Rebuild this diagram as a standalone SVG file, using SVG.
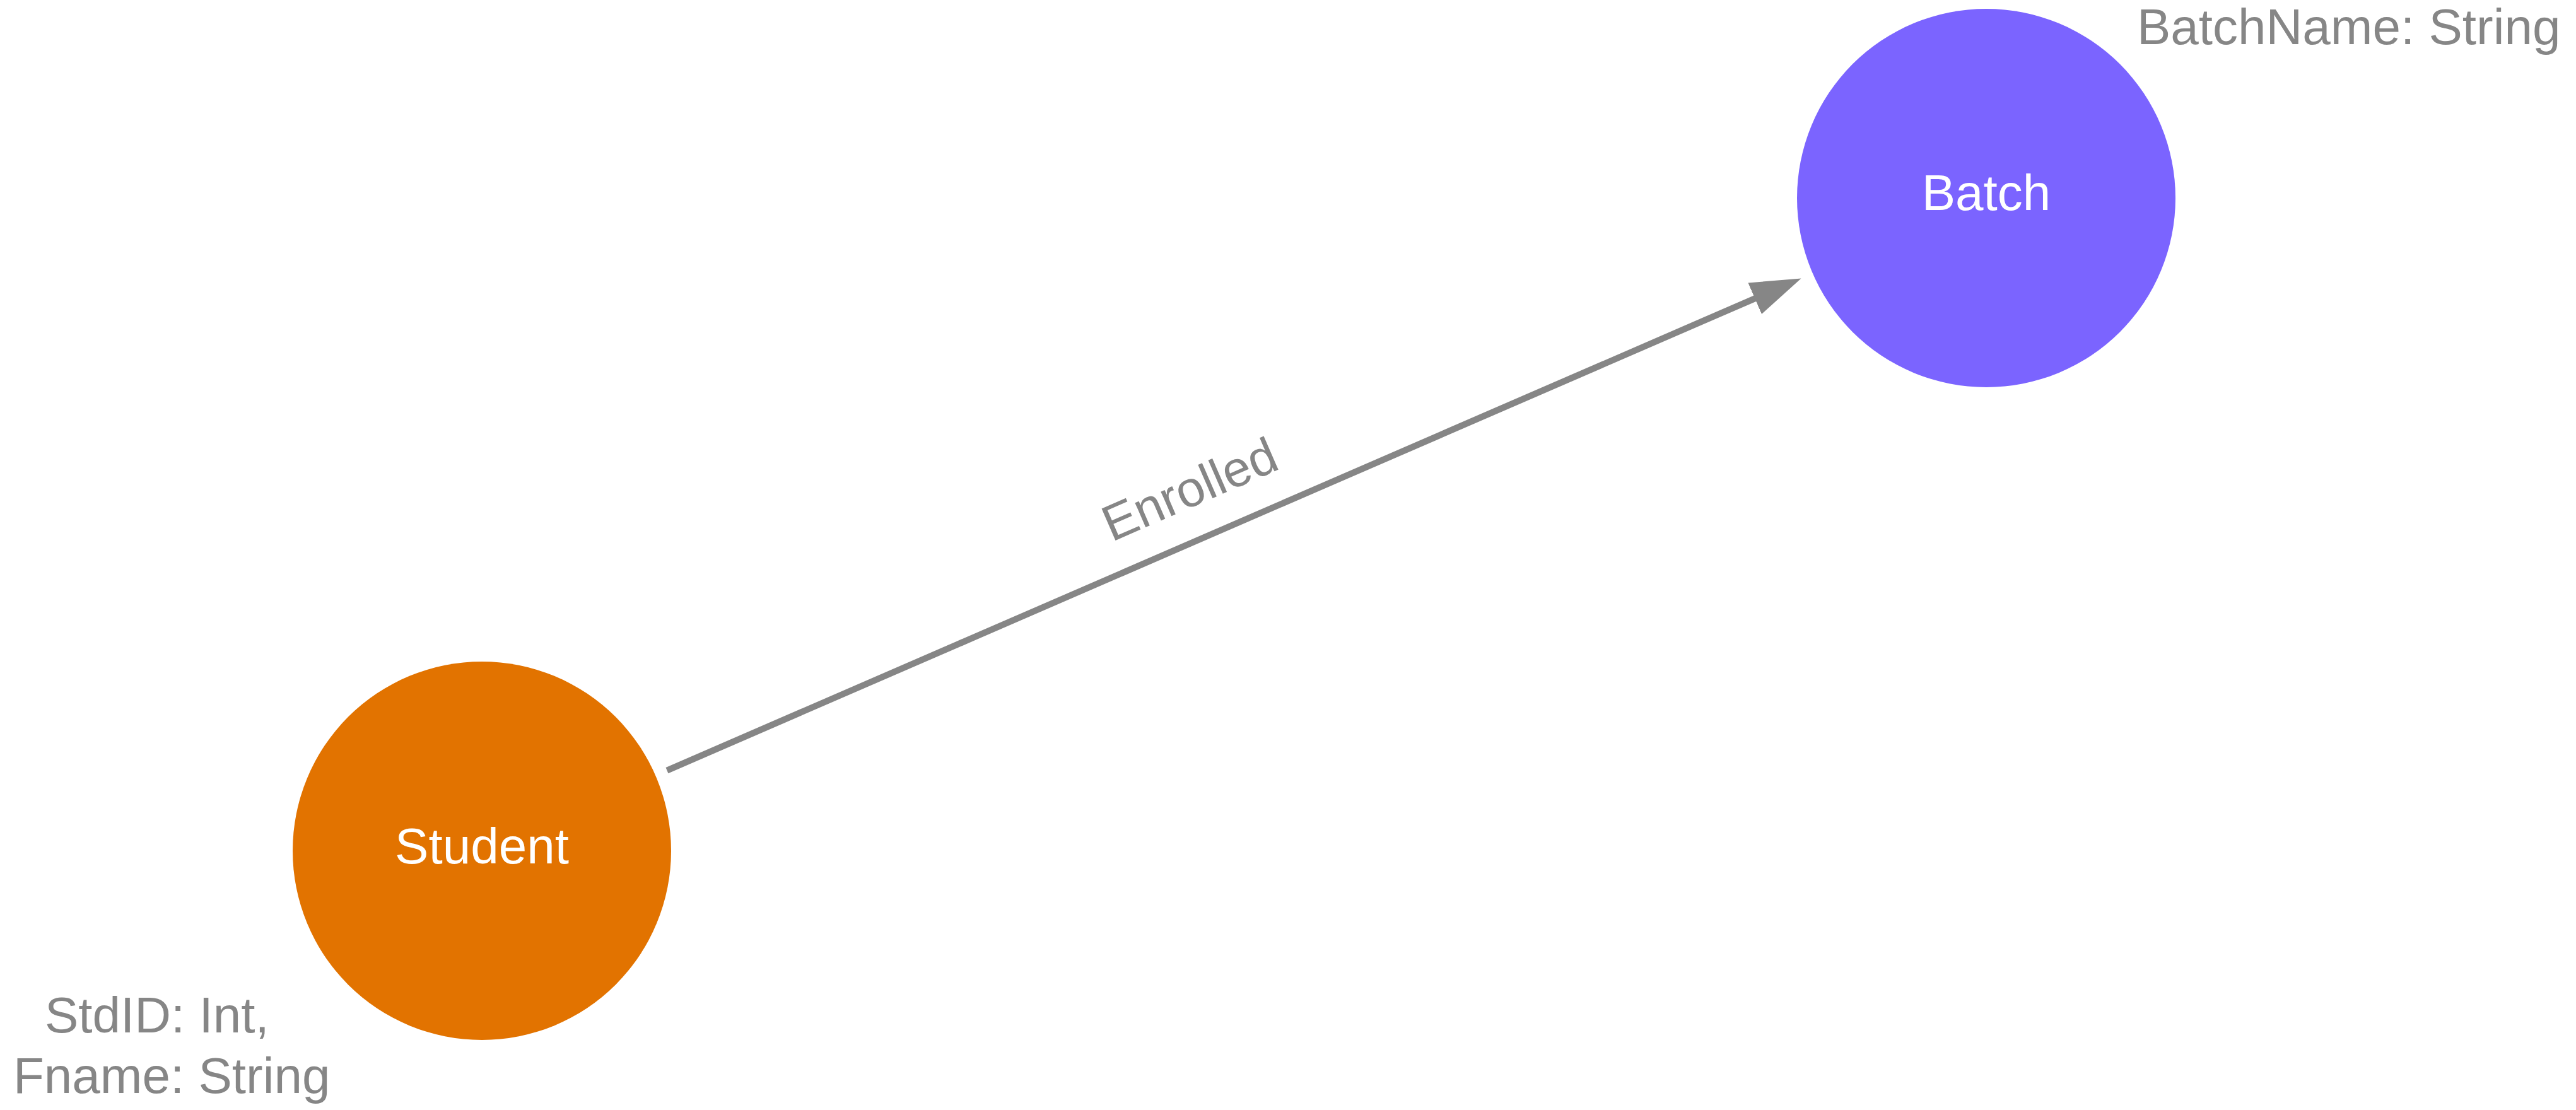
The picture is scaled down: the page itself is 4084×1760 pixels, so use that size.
<svg xmlns="http://www.w3.org/2000/svg" width="4084" height="1760" viewBox="0 0 4084 1760">
<style>
text{font-family:"Liberation Sans",Arial,sans-serif;font-size:80px}
.lbl{fill:#ffffff;text-anchor:middle}
.prop{fill:#868686}
.edge{stroke:#868686;stroke-width:10;fill:none}
</style>
<defs>
<marker id="arrow" viewBox="0 0 80 54" markerWidth="80" markerHeight="54" refX="10" refY="27" orient="auto" markerUnits="userSpaceOnUse">
<path d="M0,0 L80,27 L0,54 z" fill="#868686"/>
</marker>
</defs>
<rect width="4084" height="1760" fill="#ffffff"/>
<g id="connectors">
<g id="edge-enrolled">
<line class="edge" x1="1057.5" y1="1221.6" x2="2791.3" y2="469.3" marker-end="url(#arrow)"/>
<text class="prop" x="1897" y="801" text-anchor="middle" transform="rotate(-23.47 1897 801)">Enrolled</text>
</g>
</g>
<g id="node-student">
<circle cx="764" cy="1349" r="300" fill="#e27300"/>
<text class="lbl" x="764" y="1369">Student</text>
<text class="prop"><tspan x="71" y="1637">StdID: Int,</tspan><tspan x="21" y="1733">Fname: String</tspan></text>
</g>
<g id="node-batch">
<circle cx="3149" cy="314" r="300" fill="#7b64ff"/>
<text class="lbl" x="3149" y="333">Batch</text>
<text class="prop" x="3388" y="70">BatchName: String</text>
</g>
</svg>
